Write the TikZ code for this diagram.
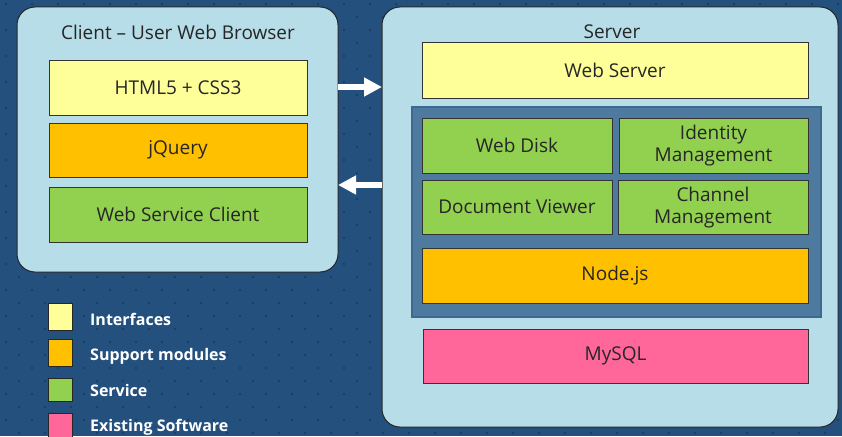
\documentclass[tikz,border=0pt]{standalone}
\usepackage{fontspec}
\setmainfont{Open Sans}
\usetikzlibrary{arrows.meta}
\definecolor{bgblue}{HTML}{24507E}
\definecolor{dotblue}{HTML}{153A63}
\definecolor{lightbox}{HTML}{B7DDE8}
\definecolor{ifyellow}{HTML}{FFFF99}
\definecolor{suporange}{HTML}{FFC000}
\definecolor{svcgreen}{HTML}{92D050}
\definecolor{expink}{HTML}{FF6699}
\definecolor{panelblue}{HTML}{4F7AA0}
\definecolor{panelborder}{HTML}{3E6890}
\tikzset{
  x=1pt, y=-1pt,
  container/.style={draw=black!85, line width=1pt, fill=lightbox, rounded corners=18pt},
  layer/.style={draw=black!80, line width=1pt, inner sep=0pt, align=center, font=\fontsize{19}{22}\selectfont, text=black!85},
  legendbox/.style={draw=black!85, line width=1pt, minimum width=24pt, minimum height=27pt, inner sep=0pt},
  legendtext/.style={anchor=west, text=white, font=\bfseries\fontsize{16}{18}\selectfont, inner sep=0pt},
  bigarrow/.style={-{Triangle[length=18pt,width=18pt]}, line width=6pt, white},
  title/.style={font=\fontsize{19}{21}\selectfont, text=black!85, inner sep=0pt}
}
\begin{document}
\begin{tikzpicture}
\useasboundingbox (0,0) rectangle (842,436);
\fill[bgblue] (0,0) rectangle (842,436);
\foreach \i in {0,...,32} {
  \foreach \j in {0,...,17} {
    \fill[dotblue] (\i*26+6, \j*26+4) circle (1.1pt);
    \fill[dotblue] (\i*26+19, \j*26+17) circle (1.1pt);
  }
}
% containers
\draw[container] (17,7) rectangle (338,272);
\draw[container] (382,7) rectangle (838,427);
\node[title] (ctitle) at (178,32) {Client – User Web Browser};
\node[title] (stitle) at (612,32) {Server};
% client layers
\node[layer, fill=ifyellow, minimum width=258pt, minimum height=55pt] (html) at (178,87.5) {HTML5 + CSS3};
\node[layer, fill=suporange, minimum width=258pt, minimum height=54pt] (jq) at (178,150) {jQuery};
\node[layer, fill=svcgreen, minimum width=258pt, minimum height=55pt] (wsc) at (178,214.5) {Web Service Client};
% server
\node[layer, fill=ifyellow, minimum width=386pt, minimum height=55pt] (ws) at (615,70.5) {Web Server};
\node[draw=panelborder, line width=1.5pt, fill=panelblue, minimum width=409pt, minimum height=210pt, inner sep=0pt] (panel) at (616.5,212) {};
\node[layer, fill=svcgreen, minimum width=190pt, minimum height=55pt] (wd) at (517,145.5) {Web Disk};
\node[layer, fill=svcgreen, minimum width=189pt, minimum height=55pt] (idm) at (713.5,146) {Identity\\Management};
\node[layer, fill=svcgreen, minimum width=190pt, minimum height=54pt] (dv) at (517,207) {Document Viewer};
\node[layer, fill=svcgreen, minimum width=190pt, minimum height=54pt] (chm) at (713,207.5) {Channel\\Management};
\node[layer, fill=suporange, minimum width=386pt, minimum height=55pt] (node) at (615,275.5) {Node.js};
\node[layer, fill=expink, minimum width=385pt, minimum height=54pt] (mysql) at (615.5,356) {MySQL};
% arrows
\coordinate (a1s) at (338,87);
\coordinate (a1e) at (382,87);
\coordinate (a2s) at (382,185);
\coordinate (a2e) at (338,185);
\draw[bigarrow] (a1s) -- (a1e);
\draw[bigarrow] (a2s) -- (a2e);
% legend
\node[legendbox, fill=ifyellow] (l1) at (60.5,317) {};
\node[legendbox, fill=suporange] (l2) at (60.5,352.5) {};
\node[legendbox, fill=svcgreen, minimum height=23pt] (l3) at (60.5,389.5) {};
\node[legendbox, fill=expink] (l4) at (60.5,426.5) {};
\node[legendtext] (t1) at (90,319) {Interfaces};
\node[legendtext] (t2) at (90,356) {Support modules};
\node[legendtext] (t3) at (90,390) {Service};
\node[legendtext] (t4) at (90,427) {Existing Software};
\end{tikzpicture}
\end{document}
